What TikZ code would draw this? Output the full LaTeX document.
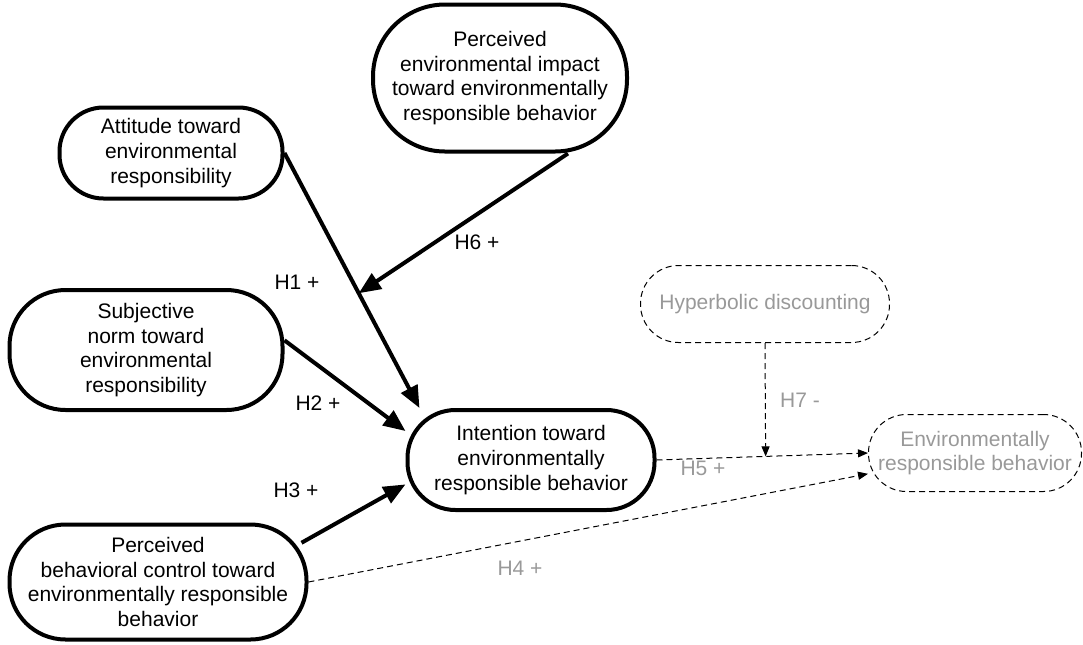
\documentclass[tikz,border=0pt]{standalone}
\usepackage{fontspec}
\setmainfont{Liberation Sans}
\usetikzlibrary{arrows.meta}
\definecolor{hgray}{HTML}{999999}
\tikzset{
	latent/.style={draw, line width=2pt, align=center, inner sep=0pt, font=\fontsize{10.5}{12.3}\selectfont},
	latentdash/.style={draw, dash pattern=on 3pt off 2pt, line width=0.5pt, text=hgray, align=center, inner sep=0pt, font=\fontsize{10.5}{12.3}\selectfont},
	hypo/.style={line width=2pt, -{Triangle[length=11pt,width=9pt]}},
	hypodash/.style={line width=0.5pt, dash pattern=on 3pt off 2pt, -{Triangle[length=5pt,width=4pt]}},
	hlabel/.style={font=\fontsize{10.5}{12.3}\selectfont, inner sep=1pt},
}
\begin{document}
\begin{tikzpicture}[x=0.5pt,y=-0.5pt]
	\useasboundingbox (0,0) rectangle (1083,644);
	% constructs
	\node[latent, minimum width=111.5pt, minimum height=45.5pt, rounded corners=22pt] (att) at (171,153) {Attitude toward\\environmental\\responsibility};
	\node[latent, minimum width=127pt, minimum height=73.5pt, rounded corners=36pt] (imp) at (500,78) {Perceived\\environmental impact\\toward environmentally\\responsible behavior};
	\node[latent, minimum width=136.5pt, minimum height=60pt, rounded corners=28pt] (sub) at (146,350) {Subjective\\norm toward\\environmental\\responsibility};
	\node[latent, minimum width=123.5pt, minimum height=50pt, rounded corners=24pt] (int) at (531,460) {Intention toward\\environmentally\\responsible behavior};
	\node[latent, minimum width=148.5pt, minimum height=57.5pt, rounded corners=28pt] (pbc) at (158,582) {Perceived\\behavioral control toward\\environmentally responsible\\behavior};
	\node[latentdash, minimum width=124.5pt, minimum height=38.5pt, rounded corners=19pt] (hyp) at (765,304) {Hyperbolic discounting};
	\node[latentdash, minimum width=106.5pt, minimum height=38.5pt, rounded corners=19pt] (erb) at (975,453) {Environmentally\\responsible behavior};
	% helper points on H1 and H5
	\path (att.east) -- (int.155) coordinate[pos=0.55] (h1mid);
	\path (int.east) -- (erb.west) coordinate[pos=0.516] (h5mid);
	% hypotheses
	\draw[hypo] (att.east) -- (int.155);
	\draw[hypo] (imp.-48) -- (h1mid);
	\draw[hypo] (sub.4) -- (int.167);
	\draw[hypo, shorten <=-4pt] (pbc.16) -- (int.191);
	\draw[hypodash] (int.east) -- (erb.west);
	\draw[hypodash] (pbc.east) -- (erb.191);
	\draw[hypodash] (hyp.south) -- (h5mid);
	% labels
	\node[hlabel] (l1) at (297,282) {H1 +};
	\node[hlabel] (l6) at (477,242) {H6 +};
	\node[hlabel] (l2) at (318,403) {H2 +};
	\node[hlabel] (l3) at (296,490) {H3 +};
	\node[hlabel, text=hgray] (l4) at (520,568) {H4 +};
	\node[hlabel, text=hgray] (l5) at (703,468) {H5 +};
	\node[hlabel, text=hgray] (l7) at (800,400) {H7 -};
\end{tikzpicture}
\end{document}
